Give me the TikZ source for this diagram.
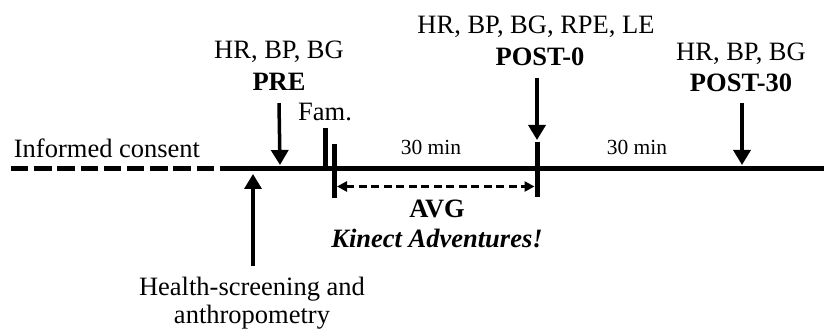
\documentclass[tikz,border=0pt]{standalone}
\usepackage{fontspec}
\setmainfont{Liberation Serif}
\usetikzlibrary{arrows.meta,positioning}

\begin{document}
\begin{tikzpicture}[x=1pt, y=-1pt,
  lab/.style={font=\fontsize{26.5}{32}\selectfont, inner sep=2pt, anchor=base},
  minlab/.style={font=\fontsize{21.5}{26}\selectfont, inner sep=2pt, anchor=base},
  arr/.style={-{Triangle[length=15pt, width=17pt]}, line width=3.5pt},
  dblarr/.style={{Triangle[length=10pt, width=10pt]}-{Triangle[length=10pt, width=10pt]}, line width=2.5pt, dash pattern=on 8pt off 4.5pt},
  axis/.style={line width=5pt},
  bar/.style={line width=5pt},
]
\useasboundingbox (0,0) rectangle (824,331);

% Timeline
\coordinate (start) at (11,169);
\coordinate (gap) at (214,169);
\coordinate (solid) at (219.5,169);
\coordinate (end) at (824,169);
\draw[axis, dash pattern=on 17.4pt off 5.8pt] (start) -- (gap);
\draw[axis] (solid) -- (end);

\node[lab] (consent) at (107,158) {Informed consent};

% Points on the timeline
\coordinate (tpre) at (280,165);
\coordinate (thealth) at (253,174);
\coordinate (tpost) at (537,140);
\coordinate (tpost30) at (742,165);

% Fam. and exercise bars
\coordinate (famtop) at (325.5,128);
\coordinate (fambot) at (325.5,171);
\coordinate (avgtop) at (334.5,144);
\coordinate (avgbot) at (334.5,198);
\coordinate (endtop) at (537,142);
\coordinate (endbot) at (537,197);
\draw[bar] (famtop) -- (fambot);
\draw[bar] (avgtop) -- (avgbot);
\draw[bar] (endtop) -- (endbot);
\node[lab] (fam) at (325,121) {Fam.};

% PRE
\node[lab] (pre) at (279,91) {\textbf{PRE}};
\node[lab, above=32pt of pre.base, anchor=base] (prevars) {HR, BP, BG};
\draw[arr] ([yshift=-10pt]pre.south) -- (tpre);

% POST-0
\node[lab] (post) at (540,66) {\textbf{POST-0}};
\node[lab, above=32pt of post.base, anchor=base, xshift=-4pt] (postvars) {HR, BP, BG, RPE, LE};
\draw[arr] ([yshift=-10pt, xshift=-3pt]post.south) -- (tpost);

% POST-30
\node[lab] (post30) at (741,92) {\textbf{POST-30}};
\node[lab, above=31pt of post30.base, anchor=base] (post30vars) {HR, BP, BG};
\draw[arr] ([yshift=-9pt, xshift=1pt]post30.south) -- (tpost30);

% durations
\node[minlab] (min1) at (431,155) {30 min};
\node[minlab] (min2) at (637,155) {30 min};

% AVG session
\coordinate (avgL) at (337,186.5);
\coordinate (avgR) at (534.5,186.5);
\draw[dblarr] (avgL) -- (avgR);
\node[lab] (avg) at (437,218) {\textbf{AVG}};
\node[lab, below=29pt of avg.base, anchor=base] (kinect) {\textbf{\textit{Kinect Adventures!}}};

% Health-screening
\node[lab] (health) at (252,295) {Health-screening and};
\node[lab, below=28.5pt of health.base, anchor=base] (anthro) {anthropometry};
\draw[arr] ([yshift=8pt, xshift=1pt]health.north) -- (thealth);

\end{tikzpicture}
\end{document}
